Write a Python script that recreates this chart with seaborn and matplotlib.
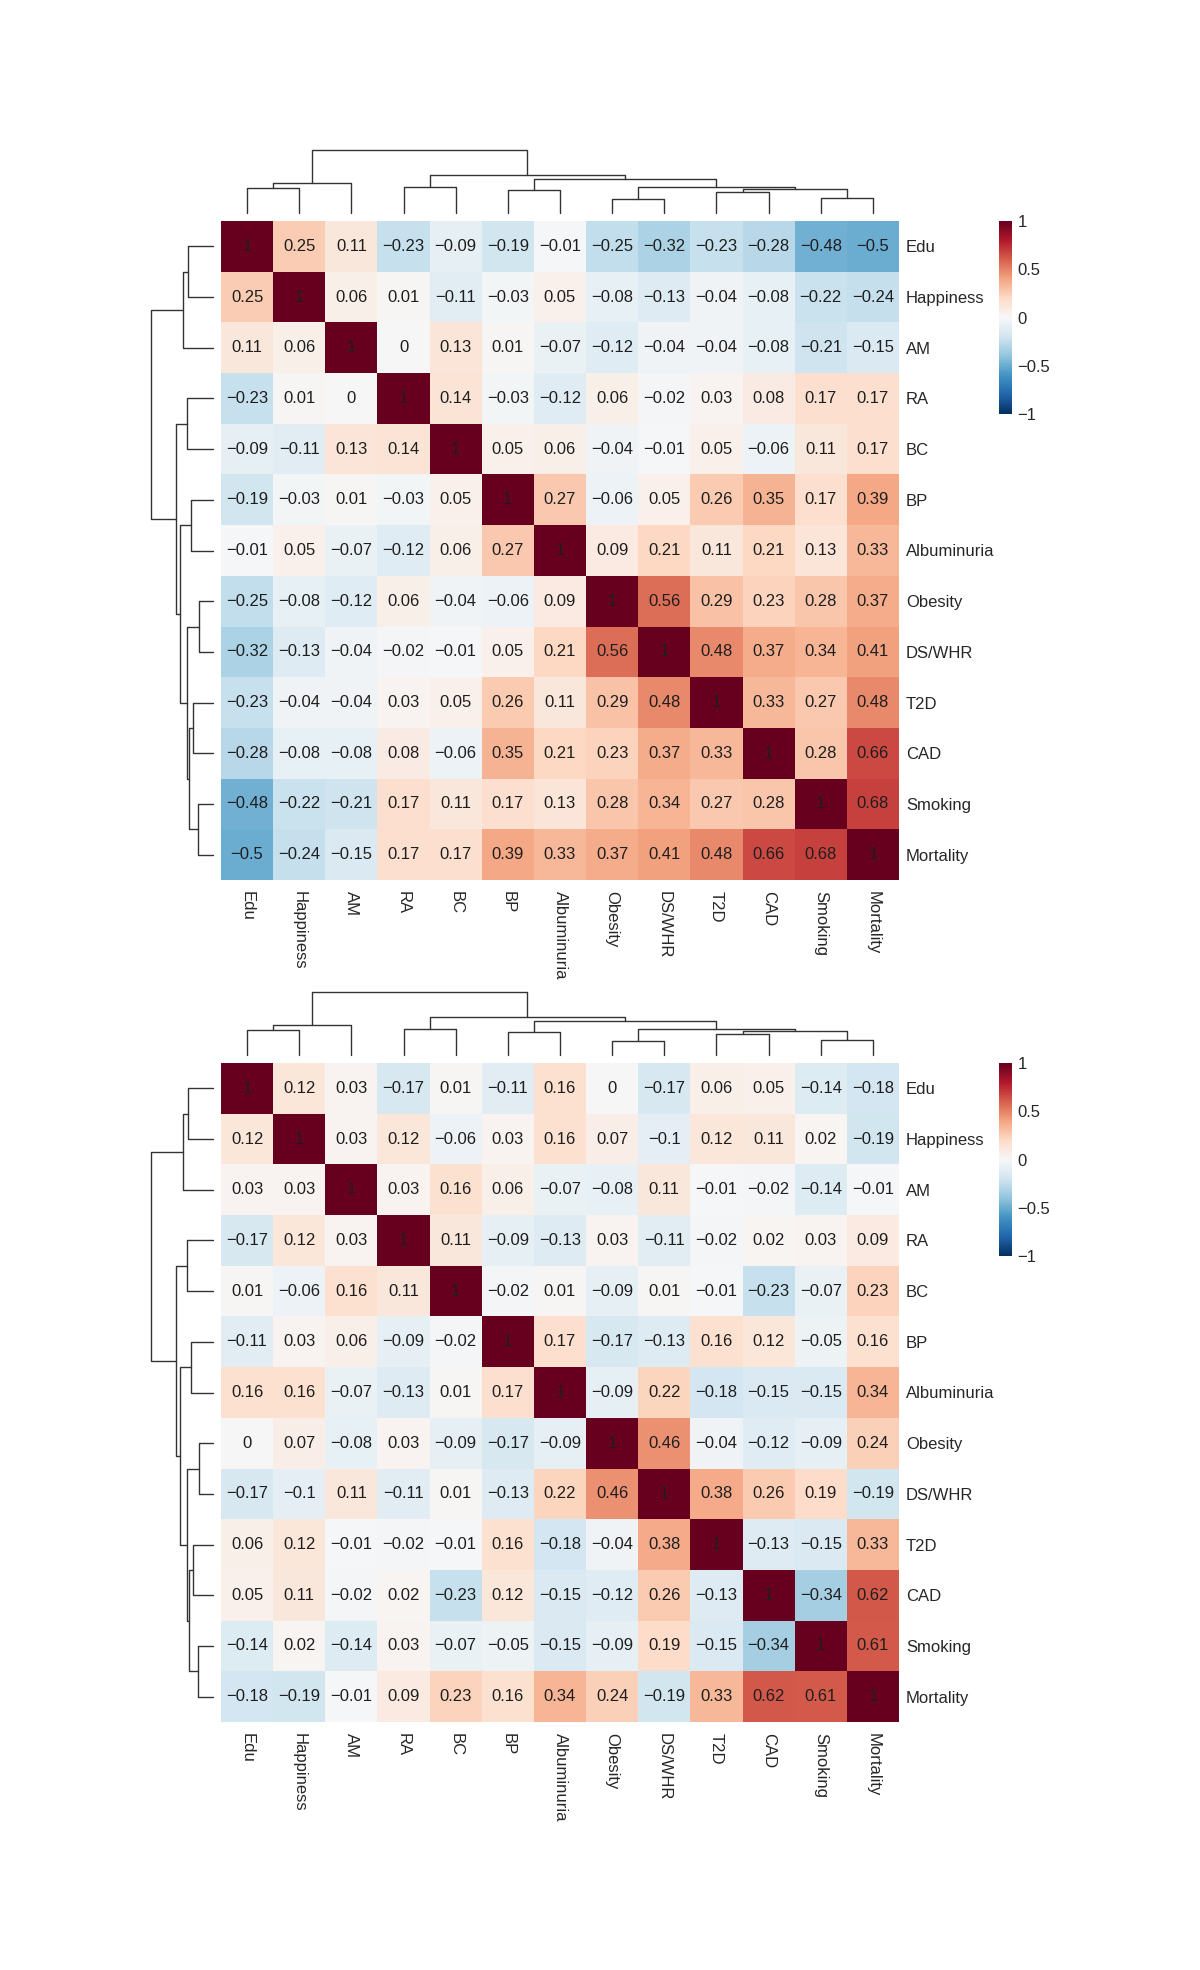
import numpy as np
import pandas as pd
import matplotlib
matplotlib.use("Agg")
import matplotlib.pyplot as plt
import seaborn as sns

W, H = 1200, 1970

LABELS = ["Edu", "Happiness", "AM", "RA", "BC", "BP", "Albuminuria",
          "Obesity", "DS/WHR", "T2D", "CAD", "Smoking", "Mortality"]

# upper panel correlations (rows/cols in LABELS order)
TOP_VALUES = [
    [1, 0.25, 0.11, -0.23, -0.09, -0.19, -0.01, -0.25, -0.32, -0.23, -0.28, -0.48, -0.5],
    [0.25, 1, 0.06, 0.01, -0.11, -0.03, 0.05, -0.08, -0.13, -0.04, -0.08, -0.22, -0.24],
    [0.11, 0.06, 1, 0, 0.13, 0.01, -0.07, -0.12, -0.04, -0.04, -0.08, -0.21, -0.15],
    [-0.23, 0.01, 0, 1, 0.14, -0.03, -0.12, 0.06, -0.02, 0.03, 0.08, 0.17, 0.17],
    [-0.09, -0.11, 0.13, 0.14, 1, 0.05, 0.06, -0.04, -0.01, 0.05, -0.06, 0.11, 0.17],
    [-0.19, -0.03, 0.01, -0.03, 0.05, 1, 0.27, -0.06, 0.05, 0.26, 0.35, 0.17, 0.39],
    [-0.01, 0.05, -0.07, -0.12, 0.06, 0.27, 1, 0.09, 0.21, 0.11, 0.21, 0.13, 0.33],
    [-0.25, -0.08, -0.12, 0.06, -0.04, -0.06, 0.09, 1, 0.56, 0.29, 0.23, 0.28, 0.37],
    [-0.32, -0.13, -0.04, -0.02, -0.01, 0.05, 0.21, 0.56, 1, 0.48, 0.37, 0.34, 0.41],
    [-0.23, -0.04, -0.04, 0.03, 0.05, 0.26, 0.11, 0.29, 0.48, 1, 0.33, 0.27, 0.48],
    [-0.28, -0.08, -0.08, 0.08, -0.06, 0.35, 0.21, 0.23, 0.37, 0.33, 1, 0.28, 0.66],
    [-0.48, -0.22, -0.21, 0.17, 0.11, 0.17, 0.13, 0.28, 0.34, 0.27, 0.28, 1, 0.68],
    [-0.5, -0.24, -0.15, 0.17, 0.17, 0.39, 0.33, 0.37, 0.41, 0.48, 0.66, 0.68, 1],
]

# lower panel correlations
BOTTOM_VALUES = [
    [1, 0.12, 0.03, -0.17, 0.01, -0.11, 0.16, 0, -0.17, 0.06, 0.05, -0.14, -0.18],
    [0.12, 1, 0.03, 0.12, -0.06, 0.03, 0.16, 0.07, -0.1, 0.12, 0.11, 0.02, -0.19],
    [0.03, 0.03, 1, 0.03, 0.16, 0.06, -0.07, -0.08, 0.11, -0.01, -0.02, -0.14, -0.01],
    [-0.17, 0.12, 0.03, 1, 0.11, -0.09, -0.13, 0.03, -0.11, -0.02, 0.02, 0.03, 0.09],
    [0.01, -0.06, 0.16, 0.11, 1, -0.02, 0.01, -0.09, 0.01, -0.01, -0.23, -0.07, 0.23],
    [-0.11, 0.03, 0.06, -0.09, -0.02, 1, 0.17, -0.17, -0.13, 0.16, 0.12, -0.05, 0.16],
    [0.16, 0.16, -0.07, -0.13, 0.01, 0.17, 1, -0.09, 0.22, -0.18, -0.15, -0.15, 0.34],
    [0, 0.07, -0.08, 0.03, -0.09, -0.17, -0.09, 1, 0.46, -0.04, -0.12, -0.09, 0.24],
    [-0.17, -0.1, 0.11, -0.11, 0.01, -0.13, 0.22, 0.46, 1, 0.38, 0.26, 0.19, -0.19],
    [0.06, 0.12, -0.01, -0.02, -0.01, 0.16, -0.18, -0.04, 0.38, 1, -0.13, -0.15, 0.33],
    [0.05, 0.11, -0.02, 0.02, -0.23, 0.12, -0.15, -0.12, 0.26, -0.13, 1, -0.34, 0.62],
    [-0.14, 0.02, -0.14, 0.03, -0.07, -0.05, -0.15, -0.09, 0.19, -0.15, -0.34, 1, 0.61],
    [-0.18, -0.19, -0.01, 0.09, 0.23, 0.16, 0.34, 0.24, -0.19, 0.33, 0.62, 0.61, 1],
]

# clustering tree, scipy-linkage style: ids >= 13 point to earlier merges
MERGE_LEFT = [7, 11, 9, 5, 15, 0, 3, 13, 18, 16, 19, 21]
MERGE_RIGHT = [8, 12, 10, 6, 14, 1, 4, 17, 2, 20, 22, 23]
MERGE_HEIGHT = [0.23, 0.24, 0.33, 0.36, 0.38, 0.40, 0.42, 0.42, 0.48, 0.54, 0.60, 1.0]

CBAR_TICKS = [-1, -0.5, 0, 0.5, 1]
CBAR_LABELS = ["\u22121", "\u22120.5", "0", "0.5", "1"]

sns.set_style("white")
plt.rcParams["font.family"] = ["Liberation Sans", "DejaVu Sans"]

LINE_COLOR = "#333333"


def px_axes(fig, x0, y0, x1, y1):
    return fig.add_axes([x0 / W, 1 - y1 / H, (x1 - x0) / W, (y1 - y0) / H])


def tree_segments():
    n = len(LABELS)
    pos = {i: i + 0.5 for i in range(n)}
    hgt = {i: 0.0 for i in range(n)}
    segs = []
    for k, (a, b, h) in enumerate(zip(MERGE_LEFT, MERGE_RIGHT, MERGE_HEIGHT)):
        segs.append(([pos[a], pos[a], pos[b], pos[b]], [hgt[a], h, h, hgt[b]]))
        pos[n + k] = (pos[a] + pos[b]) / 2
        hgt[n + k] = h
    return segs


def fmt_val(v):
    return f"{v:g}".replace("-", "\u2212")


def draw_panel(fig, values, top):
    df = pd.DataFrame(values, index=LABELS, columns=LABELS)
    annot = np.vectorize(fmt_val)(df.values)

    ax = px_axes(fig, 221, top, 899, top + 659)
    cax = px_axes(fig, 999, top, 1012, top + 193)
    sns.heatmap(df, ax=ax, cmap="RdBu_r", vmin=-1, vmax=1,
                annot=annot, fmt="", annot_kws={"color": "#1e1e1e", "fontsize": 12},
                cbar_ax=cax, cbar_kws={"ticks": CBAR_TICKS},
                xticklabels=LABELS, yticklabels=LABELS)
    ax.yaxis.tick_right()
    ax.tick_params(axis="both", length=0, labelsize=12)
    ax.tick_params(axis="y", pad=5)
    ax.tick_params(axis="x", pad=8)
    ax.set_yticklabels(LABELS, rotation=0, ha="left")
    ax.set_xticklabels(LABELS, rotation=270, ha="center", va="top")
    ax.set_xlabel("")
    ax.set_ylabel("")

    cbar = ax.collections[0].colorbar
    cbar.outline.set_visible(False)
    cax.set_yticklabels(CBAR_LABELS)
    cax.tick_params(length=0, labelsize=12, pad=4)

    # column dendrogram
    dax = px_axes(fig, 221, top - 71, 899, top - 8)
    for xs, ys in tree_segments():
        dax.plot(xs, ys, color=LINE_COLOR, lw=1.0, clip_on=False)
    dax.set_xlim(0, len(LABELS))
    dax.set_ylim(0, 1)
    dax.axis("off")

    # row dendrogram
    rax = px_axes(fig, 151, top, 213, top + 659)
    for xs, ys in tree_segments():
        rax.plot(ys, xs, color=LINE_COLOR, lw=1.0, clip_on=False)
    rax.set_xlim(1, 0)
    rax.set_ylim(len(LABELS), 0)
    rax.axis("off")


fig = plt.figure(figsize=(W / 100, H / 100), dpi=100)
fig.patch.set_facecolor("white")

draw_panel(fig, TOP_VALUES, 221)
draw_panel(fig, BOTTOM_VALUES, 1063)

fig.savefig("out.png", dpi=100, facecolor="white")
